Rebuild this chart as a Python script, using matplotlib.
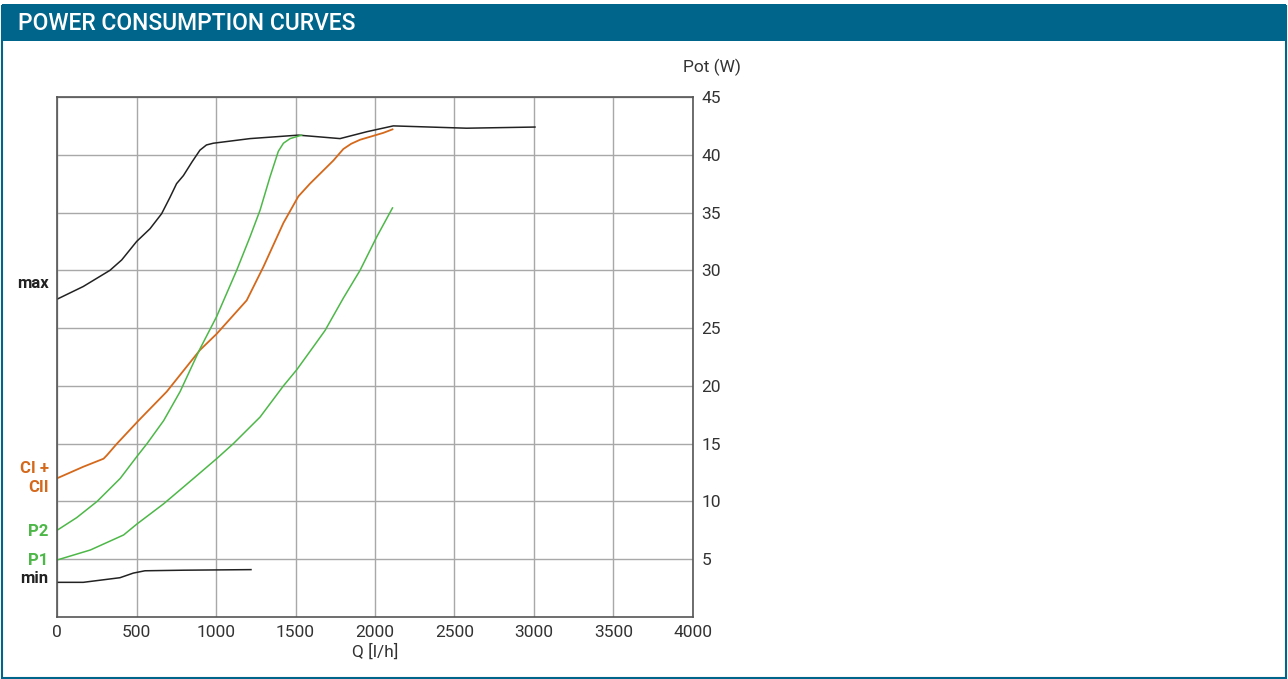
import matplotlib.pyplot as plt
from matplotlib.patches import Rectangle
from matplotlib.transforms import blended_transform_factory

plt.rcParams['font.family'] = ['Roboto', 'DejaVu Sans']

# Curves (Q in l/h, power in W)
max_q = [0, 165, 333, 407, 501, 585, 658, 710, 752, 795, 850, 899, 940, 983, 1214, 1518, 1650, 1780, 1950, 2115, 2576, 3006]
max_w = [27.5, 28.6, 30.0, 30.9, 32.5, 33.6, 34.9, 36.3, 37.5, 38.2, 39.4, 40.4, 40.85, 41.0, 41.4, 41.7, 41.55, 41.4, 42.0, 42.5, 42.3, 42.4]

ci_q = [0, 165, 293, 314, 377, 513, 690, 899, 1004, 1193, 1298, 1424, 1518, 1591, 1738, 1801, 1850, 1906, 2053, 2110]
ci_w = [12.0, 13.0, 13.7, 14.0, 15.0, 17.0, 19.5, 23.1, 24.5, 27.4, 30.3, 34.1, 36.4, 37.5, 39.5, 40.5, 40.95, 41.3, 41.9, 42.2]

p2_q = [0, 124, 252, 398, 503, 566, 671, 774, 899, 1004, 1130, 1214, 1277, 1340, 1392, 1424, 1466, 1539]
p2_w = [7.5, 8.6, 10.0, 12.0, 13.9, 15.0, 17.0, 19.5, 23.2, 26.0, 30.0, 32.9, 35.2, 38.1, 40.3, 41.0, 41.4, 41.7]

p1_q = [0, 210, 419, 503, 671, 774, 868, 1004, 1109, 1277, 1424, 1508, 1613, 1686, 1801, 1906, 2011, 2110]
p1_w = [4.93, 5.8, 7.1, 8.05, 9.8, 11.0, 12.1, 13.7, 15.0, 17.3, 20.0, 21.4, 23.4, 24.8, 27.6, 30.0, 32.9, 35.4]

min_q = [0, 165, 396, 480, 553, 795, 1220]
min_w = [3.0, 3.0, 3.4, 3.8, 4.0, 4.05, 4.1]

x_ticks = [0, 500, 1000, 1500, 2000, 2500, 3000, 3500, 4000]
y_ticks = [5, 10, 15, 20, 25, 30, 35, 40, 45]

blue = '#00658b'
orange = '#d4691c'
green = '#4db848'
black = '#222222'
txt = '#333333'

fig = plt.figure(figsize=(12.88, 6.79), dpi=100)

# header band and frame
fig.patches.append(Rectangle((0.0015, 0.0015), 0.997, 0.99, transform=fig.transFigure,
                             fill=False, edgecolor=blue, linewidth=1.5))
fig.patches.append(Rectangle((0.0015, 1 - 41 / 679), 0.997, 37 / 679, transform=fig.transFigure,
                             facecolor=blue, edgecolor='none'))
fig.text(18 / 1288, 1 - 23 / 679, 'POWER CONSUMPTION CURVES', color='white',
         fontsize=16.5, fontweight='medium', va='center', ha='left')

ax = fig.add_axes([57 / 1288, 62 / 679, 636 / 1288, 520 / 679])
ax.plot(max_q, max_w, color=black, lw=1.1)
ax.plot(ci_q, ci_w, color=orange, lw=1.3)
ax.plot(p2_q, p2_w, color=green, lw=1.1)
ax.plot(p1_q, p1_w, color=green, lw=1.1)
ax.plot(min_q, min_w, color=black, lw=1.1)

ax.set_xlim(0, 4000)
ax.set_ylim(0, 45)
ax.set_xticks(x_ticks)
ax.set_yticks(y_ticks)
ax.yaxis.tick_right()
ax.tick_params(length=0, labelsize=12.5, labelcolor=txt, pad=6)
ax.grid(True, color='#a8a8a8', lw=1)
ax.set_axisbelow(True)
for s in ax.spines.values():
    s.set_color('#555555')
    s.set_linewidth(1.2)

ax.set_xlabel('Q [l/h]', fontsize=12.5, color=txt, labelpad=2)
fig.text(712 / 1288, 1 - 67 / 679, 'Pot (W)', fontsize=12.5, color=txt,
         ha='center', va='center')

# curve labels on the left
tr = blended_transform_factory(ax.transAxes, ax.transData)
lx = -0.013
ax.text(lx, 28.9, 'max', transform=tr, ha='right', va='center', color=black,
        fontsize=12, fontweight='bold')
ax.text(lx, 12.0, 'CI +\nCII', transform=tr, ha='right', va='center', color=orange,
        fontsize=12, fontweight='bold', linespacing=1.35)
ax.text(lx, 7.4, 'P2', transform=tr, ha='right', va='center', color=green,
        fontsize=12, fontweight='bold')
ax.text(lx, 4.85, 'P1', transform=tr, ha='right', va='center', color=green,
        fontsize=12, fontweight='bold')
ax.text(lx, 3.3, 'min', transform=tr, ha='right', va='center', color=black,
        fontsize=12, fontweight='bold')

fig.savefig('out.png', dpi=100)
